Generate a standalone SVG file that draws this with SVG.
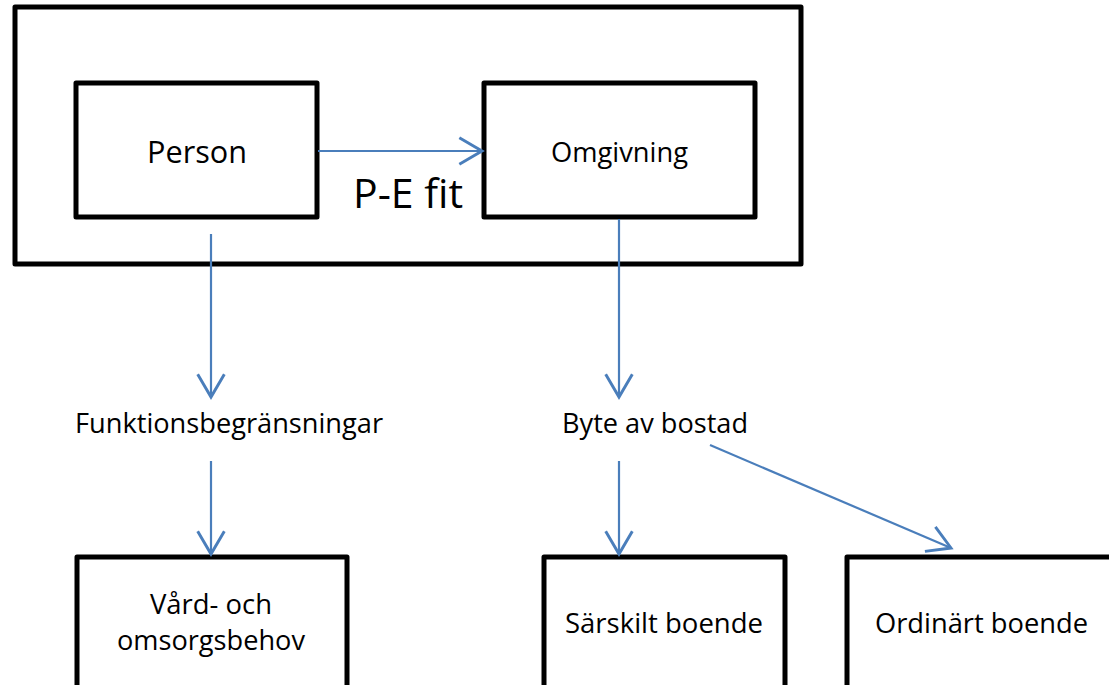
<svg xmlns="http://www.w3.org/2000/svg" width="1109" height="685" viewBox="0 0 1109 685">
  <defs>
    <marker id="arrow" markerUnits="userSpaceOnUse" markerWidth="40" markerHeight="40" refX="0" refY="0" viewBox="-20 -15 25 30" orient="auto" overflow="visible">
      <path d="M-17,-10 L0,0 L-17,10" fill="none" stroke="#4A7EBB" stroke-width="2.2" stroke-linejoin="miter"/>
    </marker>
    <style>
      .box { fill: #ffffff; stroke: #000000; stroke-width: 5; stroke-linejoin: round; }
      .frame { fill: none; stroke: #000000; stroke-width: 5; stroke-linejoin: round; }
      .lbl { font-family: "Open Sans", "Noto Sans", "Liberation Sans", sans-serif; font-size: 28px; fill: #000000; }
      .conn { fill: none; stroke: #4A7EBB; stroke-width: 2.2; marker-end: url(#arrow); }
    </style>
  </defs>
  <rect x="0" y="0" width="1109" height="685" fill="#ffffff"/>

  <g id="pe-fit-frame">
    <rect class="frame" x="15" y="7" width="786" height="257"/>
    <text class="lbl" x="353" y="208" style="font-size:41px" textLength="110" lengthAdjust="spacingAndGlyphs">P-E fit</text>
  </g>

  <g id="person">
    <rect class="box" x="76" y="83" width="241" height="134"/>
    <text class="lbl" x="147" y="163" style="font-size:31px" textLength="100" lengthAdjust="spacingAndGlyphs">Person</text>
  </g>

  <g id="omgivning">
    <rect class="box" x="484" y="83" width="271" height="134"/>
    <text class="lbl" x="551" y="162" textLength="137" lengthAdjust="spacingAndGlyphs">Omgivning</text>
  </g>

  <g id="funktionsbegransningar">
    <text class="lbl" x="75" y="433" textLength="308" lengthAdjust="spacingAndGlyphs">Funktionsbegränsningar</text>
  </g>

  <g id="byte-av-bostad">
    <text class="lbl" x="562" y="433" textLength="186" lengthAdjust="spacingAndGlyphs">Byte av bostad</text>
  </g>

  <g id="vard-och-omsorgsbehov">
    <rect class="box" x="77" y="557" width="270" height="150"/>
    <text class="lbl" x="150" y="614" textLength="122" lengthAdjust="spacingAndGlyphs">Vård- och</text>
    <text class="lbl" x="117" y="650" textLength="188" lengthAdjust="spacingAndGlyphs">omsorgsbehov</text>
  </g>

  <g id="sarskilt-boende">
    <rect class="box" x="544" y="557" width="241" height="150"/>
    <text class="lbl" x="565" y="633" textLength="198" lengthAdjust="spacingAndGlyphs">Särskilt boende</text>
  </g>

  <g id="ordinart-boende">
    <rect class="box" x="847" y="557" width="280" height="150"/>
    <text class="lbl" x="875" y="633" textLength="213" lengthAdjust="spacingAndGlyphs">Ordinärt boende</text>
  </g>

  <g id="connectors">
    <line class="conn" x1="318" y1="151" x2="482" y2="151"/>
    <line class="conn" x1="211" y1="234" x2="211" y2="397"/>
    <line class="conn" x1="211" y1="461" x2="211" y2="554"/>
    <line class="conn" x1="619" y1="219" x2="619" y2="397"/>
    <line class="conn" x1="619" y1="461" x2="619" y2="554"/>
    <line class="conn" x1="710" y1="445" x2="951" y2="548"/>
  </g>
</svg>
